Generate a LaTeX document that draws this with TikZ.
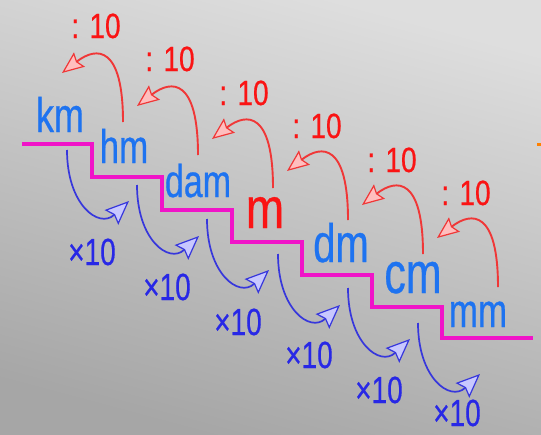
\documentclass[tikz,border=0pt]{standalone}
\usepackage{fontspec}
\setmainfont{Liberation Sans}[FakeBold=0.6]
\usetikzlibrary{arrows.meta}
\definecolor{unitblue}{RGB}{30,115,240}
\definecolor{stairmag}{RGB}{240,20,200}
\definecolor{redarr}{RGB}{240,55,55}
\definecolor{redtxt}{RGB}{250,20,20}
\definecolor{bluearr}{RGB}{55,55,220}
\definecolor{bluetxt}{RGB}{40,40,230}
\definecolor{bgleft}{RGB}{222,222,222}
\definecolor{bgright}{RGB}{166,166,166}
\definecolor{redfill}{RGB}{255,190,190}
\definecolor{bluefill}{RGB}{200,200,255}
\newcommand{\vs}[2][1.35]{\scalebox{1}[#1]{#2}}
\begin{document}
\begin{tikzpicture}[x=1pt,y=-1pt,
  unit/.style={inner sep=0pt, anchor=base, text=unitblue},
  divlbl/.style={inner sep=0pt, anchor=base, text=redtxt, font=\fontsize{28}{30}\selectfont},
  mullbl/.style={inner sep=0pt, anchor=base, text=bluetxt, font=\fontsize{28}{30}\selectfont},
  divarr/.style={draw=redarr, line width=1.9pt, -{Stealth[length=22pt,width=18pt,inset=3pt,fill=redfill,line width=1.2pt]}},
  mularr/.style={draw=bluearr, line width=1.7pt, -{Stealth[length=24pt,width=20pt,inset=3.5pt,fill=bluefill,line width=1.2pt]}},
  stair/.style={draw=stairmag, line width=3.2pt}]
\useasboundingbox (0,0) rectangle (541,434);
\shade[left color=bgleft, right color=bgright, shading angle=-15] (0,0) rectangle (541,434);

% staircase
\draw[stair] (22,144) -| (92,177) -| (162,210) -| (232,242) -| (302,275) -| (372,307) -| (442,338) -- (533,338);
\draw[orange, line width=3pt] (537,144) -- (541,144);

% unit labels
\node[unit, font=\fontsize{36}{40}\selectfont] (km) at (60,132) {\vs{km}};
\node[unit, font=\fontsize{35}{40}\selectfont] (hm) at (124,163) {\vs{hm}};
\node[unit, font=\fontsize{34}{40}\selectfont] (dam) at (198,197) {\vs{dam}};
\node[unit, text=redtxt, font=\fontsize{46}{50}\selectfont] (m) at (265,228) {\vs[1.25]{m}};
\node[unit, font=\fontsize{40}{44}\selectfont] (dm) at (341,262) {\vs{dm}};
\node[unit, font=\fontsize{43}{46}\selectfont] (cm) at (413,293) {\vs{cm}};
\node[unit, font=\fontsize{35}{40}\selectfont] (mm) at (478,327) {\vs{mm}};

% division arrows and labels
\foreach \n/\sx/\sy in {1/123/122, 2/198/155, 3/273/188, 4/348/220, 5/423/254, 6/498/287}{
  \coordinate (ds\n) at (\sx,\sy);
  \coordinate (dt\n) at (\sx-61,\sy-49);
  \draw[divarr] (ds\n) .. controls +(0,-76) and +(35,-27) .. (dt\n);
}
\foreach \n/\x/\y in {1/96/38, 2/170/71, 3/244/105, 4/317/138, 5/392/172, 6/466/205}{
  \node[divlbl] (dl\n) at (\x,\y) {\vs[1.25]{: 10}};
}

% multiplication arrows and labels
\foreach \n/\sx/\sy in {1/67/150, 2/137/185, 3/207/219, 4/278/254, 5/348/288, 6/418/323}{
  \coordinate (ms\n) at (\sx,\sy);
  \coordinate (mt\n) at (\sx+62,\sy+51);
  \draw[mularr] (ms\n) .. controls +(0,55) and +(-30,28) .. (mt\n);
}
\foreach \n/\x/\y in {1/92/265, 2/167/300, 3/238/335, 4/309/368, 5/379/403, 6/457/426}{
  \node[mullbl] (ml\n) at (\x,\y) {\vs{×10}};
}
\end{tikzpicture}
\end{document}
